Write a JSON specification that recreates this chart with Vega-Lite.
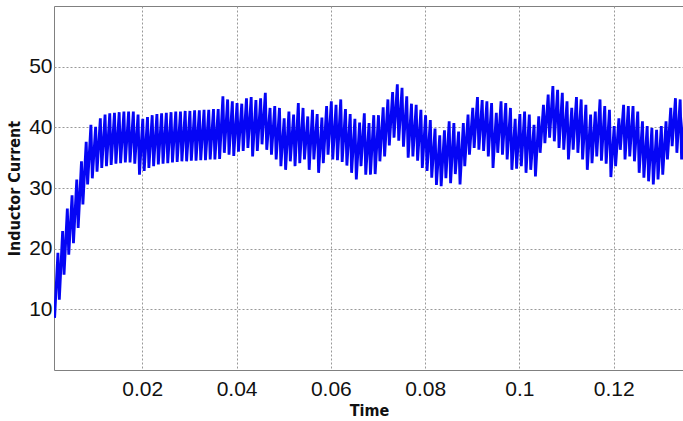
{
  "$schema": "https://vega.github.io/schema/vega-lite/v6.json",
  "width": 629,
  "height": 364,
  "autosize": {"type": "none"},
  "padding": {"left": 54, "top": 6, "right": 0, "bottom": 51},
  "background": "white",
  "config": {"view": {"stroke": "#808080", "strokeWidth": 1}},
  "data": {"values": [
    {"t":0.0014,"i":8.6},
    {"t":0.0021,"i":19.3},{"t":0.0024,"i":11.6},
    {"t":0.0031,"i":22.9},{"t":0.0034,"i":15.7},
    {"t":0.0041,"i":26.6},{"t":0.0044,"i":19.0},
    {"t":0.0051,"i":28.8},{"t":0.0054,"i":20.9},
    {"t":0.0061,"i":31.4},{"t":0.0064,"i":23.4},
    {"t":0.0071,"i":34.4},{"t":0.0074,"i":27.3},
    {"t":0.0081,"i":37.6},{"t":0.0084,"i":30.6},
    {"t":0.0091,"i":40.4},{"t":0.0094,"i":31.6},
    {"t":0.0101,"i":40.1},{"t":0.0104,"i":32.7},
    {"t":0.0111,"i":41.5},{"t":0.0114,"i":33.3},
    {"t":0.0121,"i":42.1},{"t":0.0124,"i":33.6},
    {"t":0.0131,"i":42.3},{"t":0.0134,"i":33.8},
    {"t":0.0141,"i":42.4},{"t":0.0144,"i":34.0},
    {"t":0.0151,"i":42.5},{"t":0.0154,"i":34.1},
    {"t":0.0161,"i":42.6},{"t":0.0164,"i":34.2},
    {"t":0.0171,"i":42.6},{"t":0.0174,"i":34.2},
    {"t":0.0181,"i":42.6},{"t":0.0184,"i":34.0},
    {"t":0.0191,"i":42.1},{"t":0.0194,"i":32.2},
    {"t":0.0201,"i":41.4},{"t":0.0204,"i":32.8},
    {"t":0.0211,"i":41.7},{"t":0.0214,"i":33.3},
    {"t":0.0221,"i":42.0},{"t":0.0224,"i":33.6},
    {"t":0.0231,"i":42.2},{"t":0.0234,"i":33.9},
    {"t":0.0241,"i":42.3},{"t":0.0244,"i":34.0},
    {"t":0.0251,"i":42.4},{"t":0.0254,"i":34.1},
    {"t":0.0261,"i":42.5},{"t":0.0264,"i":34.2},
    {"t":0.0271,"i":42.6},{"t":0.0274,"i":34.3},
    {"t":0.0281,"i":42.6},{"t":0.0284,"i":34.4},
    {"t":0.0291,"i":42.7},{"t":0.0294,"i":34.4},
    {"t":0.0301,"i":42.7},{"t":0.0304,"i":34.5},
    {"t":0.0311,"i":42.8},{"t":0.0314,"i":34.5},
    {"t":0.0321,"i":42.8},{"t":0.0324,"i":34.6},
    {"t":0.0331,"i":42.9},{"t":0.0334,"i":34.6},
    {"t":0.0341,"i":42.9},{"t":0.0344,"i":34.7},
    {"t":0.0351,"i":43.0},{"t":0.0354,"i":34.7},
    {"t":0.0361,"i":43.0},{"t":0.0364,"i":34.8},
    {"t":0.0371,"i":45.1},{"t":0.0374,"i":35.8},
    {"t":0.0381,"i":44.6},{"t":0.0384,"i":35.5},
    {"t":0.0391,"i":44.3},{"t":0.0394,"i":35.3},
    {"t":0.0401,"i":44.0},{"t":0.0404,"i":36.0},
    {"t":0.0411,"i":43.9},{"t":0.0414,"i":36.1},
    {"t":0.0421,"i":44.8},{"t":0.0424,"i":36.6},
    {"t":0.0431,"i":45.0},{"t":0.0434,"i":35.2},
    {"t":0.0441,"i":44.5},{"t":0.0444,"i":36.1},
    {"t":0.0451,"i":44.8},{"t":0.0454,"i":37.2},
    {"t":0.0461,"i":45.7},{"t":0.0464,"i":36.3},
    {"t":0.0471,"i":43.2},{"t":0.0474,"i":35.5},
    {"t":0.0481,"i":43.5},{"t":0.0484,"i":34.7},
    {"t":0.0491,"i":43.2},{"t":0.0494,"i":33.6},
    {"t":0.0501,"i":41.5},{"t":0.0504,"i":33.0},
    {"t":0.0511,"i":42.6},{"t":0.0514,"i":34.4},
    {"t":0.0521,"i":42.1},{"t":0.0524,"i":33.6},
    {"t":0.0531,"i":44.0},{"t":0.0534,"i":34.1},
    {"t":0.0541,"i":43.2},{"t":0.0544,"i":34.7},
    {"t":0.0551,"i":41.8},{"t":0.0554,"i":33.0},
    {"t":0.0561,"i":42.9},{"t":0.0564,"i":34.7},
    {"t":0.0571,"i":42.2},{"t":0.0574,"i":32.5},
    {"t":0.0581,"i":41.6},{"t":0.0584,"i":34.1},
    {"t":0.0591,"i":43.5},{"t":0.0594,"i":35.5},
    {"t":0.0601,"i":44.3},{"t":0.0604,"i":34.7},
    {"t":0.0611,"i":43.7},{"t":0.0614,"i":34.6},
    {"t":0.0621,"i":44.6},{"t":0.0624,"i":34.3},
    {"t":0.0631,"i":43.0},{"t":0.0634,"i":33.7},
    {"t":0.0641,"i":42.2},{"t":0.0644,"i":32.5},
    {"t":0.0651,"i":41.4},{"t":0.0654,"i":31.4},
    {"t":0.0661,"i":40.8},{"t":0.0664,"i":33.6},
    {"t":0.0671,"i":42.3},{"t":0.0674,"i":32.2},
    {"t":0.0681,"i":40.7},{"t":0.0684,"i":32.2},
    {"t":0.0691,"i":42.0},{"t":0.0694,"i":32.3},
    {"t":0.0701,"i":42.0},{"t":0.0704,"i":34.4},
    {"t":0.0711,"i":43.3},{"t":0.0714,"i":35.2},
    {"t":0.0721,"i":44.6},{"t":0.0724,"i":37.0},
    {"t":0.0731,"i":45.8},{"t":0.0734,"i":38.3},
    {"t":0.0741,"i":47.1},{"t":0.0744,"i":37.8},
    {"t":0.0751,"i":46.5},{"t":0.0754,"i":36.8},
    {"t":0.0761,"i":45.1},{"t":0.0764,"i":35.0},
    {"t":0.0771,"i":43.9},{"t":0.0774,"i":35.2},
    {"t":0.0781,"i":43.7},{"t":0.0784,"i":34.5},
    {"t":0.0791,"i":42.9},{"t":0.0794,"i":33.3},
    {"t":0.0801,"i":42.0},{"t":0.0804,"i":32.8},
    {"t":0.0811,"i":41.2},{"t":0.0814,"i":31.7},
    {"t":0.0821,"i":39.8},{"t":0.0824,"i":30.5},
    {"t":0.0831,"i":38.7},{"t":0.0834,"i":30.3},
    {"t":0.0841,"i":39.5},{"t":0.0844,"i":31.6},
    {"t":0.0851,"i":41.0},{"t":0.0854,"i":30.8},
    {"t":0.0861,"i":40.7},{"t":0.0864,"i":32.3},
    {"t":0.0871,"i":39.3},{"t":0.0874,"i":30.6},
    {"t":0.0881,"i":40.7},{"t":0.0884,"i":33.6},
    {"t":0.0891,"i":42.1},{"t":0.0894,"i":35.5},
    {"t":0.0901,"i":43.2},{"t":0.0904,"i":36.6},
    {"t":0.0911,"i":45.0},{"t":0.0914,"i":36.3},
    {"t":0.0921,"i":44.5},{"t":0.0924,"i":36.1},
    {"t":0.0931,"i":44.3},{"t":0.0934,"i":35.2},
    {"t":0.0941,"i":44.0},{"t":0.0944,"i":33.3},
    {"t":0.0951,"i":42.4},{"t":0.0954,"i":35.8},
    {"t":0.0961,"i":44.3},{"t":0.0964,"i":35.5},
    {"t":0.0971,"i":44.0},{"t":0.0974,"i":34.7},
    {"t":0.0981,"i":43.2},{"t":0.0984,"i":33.0},
    {"t":0.0991,"i":41.4},{"t":0.0994,"i":33.2},
    {"t":0.1001,"i":42.2},{"t":0.1004,"i":33.6},
    {"t":0.1011,"i":42.6},{"t":0.1014,"i":32.5},
    {"t":0.1021,"i":42.1},{"t":0.1024,"i":33.0},
    {"t":0.1031,"i":40.4},{"t":0.1034,"i":31.9},
    {"t":0.1041,"i":41.8},{"t":0.1044,"i":35.8},
    {"t":0.1051,"i":43.7},{"t":0.1054,"i":37.4},
    {"t":0.1061,"i":45.4},{"t":0.1064,"i":38.3},
    {"t":0.1071,"i":46.8},{"t":0.1074,"i":37.7},
    {"t":0.1081,"i":46.2},{"t":0.1084,"i":36.6},
    {"t":0.1091,"i":45.7},{"t":0.1094,"i":36.3},
    {"t":0.1101,"i":44.3},{"t":0.1104,"i":34.7},
    {"t":0.1111,"i":43.2},{"t":0.1114,"i":36.3},
    {"t":0.1121,"i":45.0},{"t":0.1124,"i":35.8},
    {"t":0.1131,"i":44.6},{"t":0.1134,"i":34.7},
    {"t":0.1141,"i":43.7},{"t":0.1144,"i":33.0},
    {"t":0.1151,"i":42.1},{"t":0.1154,"i":34.1},
    {"t":0.1161,"i":42.6},{"t":0.1164,"i":35.2},
    {"t":0.1171,"i":44.6},{"t":0.1174,"i":34.5},
    {"t":0.1181,"i":43.5},{"t":0.1184,"i":34.0},
    {"t":0.1191,"i":42.9},{"t":0.1194,"i":31.8},
    {"t":0.1201,"i":40.2},{"t":0.1204,"i":33.6},
    {"t":0.1211,"i":41.5},{"t":0.1214,"i":36.3},
    {"t":0.1221,"i":43.7},{"t":0.1224,"i":34.7},
    {"t":0.1231,"i":43.5},{"t":0.1234,"i":35.2},
    {"t":0.1241,"i":43.5},{"t":0.1244,"i":34.4},
    {"t":0.1251,"i":42.6},{"t":0.1254,"i":32.5},
    {"t":0.1261,"i":41.0},{"t":0.1264,"i":31.7},
    {"t":0.1271,"i":40.2},{"t":0.1274,"i":31.1},
    {"t":0.1281,"i":39.9},{"t":0.1284,"i":30.6},
    {"t":0.1291,"i":39.6},{"t":0.1294,"i":31.4},
    {"t":0.1301,"i":40.2},{"t":0.1304,"i":32.2},
    {"t":0.1311,"i":41.0},{"t":0.1314,"i":34.7},
    {"t":0.1321,"i":43.2},{"t":0.1324,"i":36.9},
    {"t":0.1331,"i":44.8},{"t":0.1334,"i":35.8},
    {"t":0.1341,"i":44.6},{"t":0.1344,"i":34.7},
    {"t":0.1351,"i":43.0}
  ]},
  "mark": {"type": "line", "color": "#0505f5", "strokeWidth": 2.8, "clip": true},
  "encoding": {
    "x": {
      "field": "t", "type": "quantitative",
      "scale": {"domain": [0.00127, 0.1347], "nice": false, "zero": false},
      "axis": {
        "values": [0.02, 0.04, 0.06, 0.08, 0.1, 0.12],
        "format": "~g",
        "domain": false, "ticks": false,
        "grid": true, "gridColor": "#999999", "gridDash": [2, 2], "gridWidth": 1,
        "labelFont": "Liberation Sans", "labelFontSize": 21, "labelColor": "#111111", "labelPadding": 8,
        "title": "Time",
        "titleFont": "DejaVu Sans Condensed", "titleFontWeight": "bold", "titleFontSize": 16, "titleColor": "#111111",
        "titleX": 315, "titleY": 32, "titleAlign": "center", "titleBaseline": "top"
      }
    },
    "y": {
      "field": "i", "type": "quantitative",
      "scale": {"domain": [0, 60], "nice": false, "zero": false},
      "axis": {
        "values": [10, 20, 30, 40, 50],
        "domain": false, "ticks": false,
        "grid": true, "gridColor": "#999999", "gridDash": [2, 2], "gridWidth": 1,
        "labelFont": "Liberation Sans", "labelFontSize": 21, "labelColor": "#111111", "labelPadding": 2,
        "title": "Inductor Current",
        "titleFont": "DejaVu Sans Condensed", "titleFontWeight": "bold", "titleFontSize": 16, "titleColor": "#111111",
        "titleAngle": -90, "titleX": -40, "titleY": 182, "titleAlign": "center", "titleBaseline": "middle"
      }
    }
  }
}
